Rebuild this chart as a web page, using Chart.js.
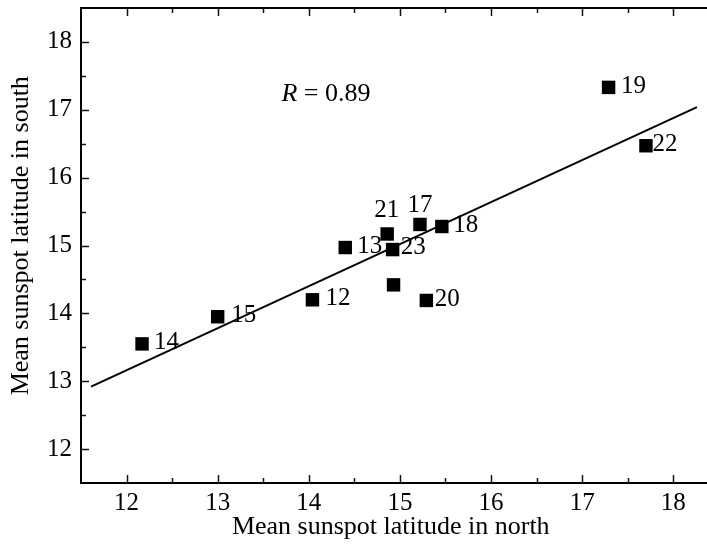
<!DOCTYPE html>
<html><head><meta charset="utf-8">
<script src="https://cdn.jsdelivr.net/npm/chart.js@4/dist/chart.umd.min.js"></script>
<style>html,body{margin:0;padding:0;background:#fff}#wrap{width:707px;height:544px}</style>
</head><body><div id="wrap"><canvas id="c" width="707" height="544"></canvas></div>
<script>
// ---- data ----
const cycles      = ['12','13','14','15','16','17','18','19','20','21','22','23'];
const northLat    = [14.04, 14.40, 12.17, 13.00, 14.93, 15.22, 15.46, 17.29, 15.29, 14.86, 17.70, 14.92];
const southLat    = [14.20, 14.97, 13.55, 13.95, 14.42, 15.31, 15.28, 17.33, 14.19, 15.17, 16.47, 14.94];
const shownLabels = ['12','13','14','15','','17','18','19','20','21','22','23'];
const fitX = [11.61, 18.26];
const fitY = [12.92, 17.04];
const xTicks = [12, 13, 14, 15, 16, 17, 18];
const yTicks = [12, 13, 14, 15, 16, 17, 18];
const xTitle = 'Mean sunspot latitude in north ';
const yTitle = '   Mean sunspot latitude in south';
const rSymbol = 'R';
const rValue = ' = 0.89';
const rAnchor = {x: 13.70, y: 17.23};

// ---- style (label placement per point: dx, dy in px, align) ----
const labelPlace = [
  [13, -1, 'left'], [12, -1, 'left'], [12, -1, 'left'], [13.5, -1, 'left'], [0, 0, 'left'],
  [0, -19, 'center'], [11.5, -1, 'left'], [12.5, -1, 'left'], [8.5, -1, 'left'],
  [-0.5, -24, 'center'], [6.5, -1, 'left'], [8, -2, 'left']
];
const FONT = 'Liberation Serif';
const X_MIN = 11.5, X_MAX = 18.37, Y_MIN = 11.5, Y_MAX = 18.5;

const points = northLat.map((v, i) => ({x: v, y: southLat[i]}));
const fitLine = fitX.map((v, i) => ({x: v, y: fitY[i]}));

const inwardTicks = {
  id: 'inwardTicks',
  afterDraw(chart) {
    const ctx = chart.ctx, a = chart.chartArea;
    const xs = chart.scales.x, ys = chart.scales.y;
    ctx.save();
    ctx.strokeStyle = '#111';
    ctx.lineWidth = 1.5;
    const steps = [];
    for (let v = 11.5; v <= 18.51; v += 0.5) steps.push(v);
    const drawX = (v, len) => {
      const px = Math.round(xs.getPixelForValue(v)) + 0.5;
      if (px < a.left + 2 || px > a.right - 1) return;
      ctx.beginPath(); ctx.moveTo(px, a.bottom); ctx.lineTo(px, a.bottom - len); ctx.stroke();
      ctx.beginPath(); ctx.moveTo(px, a.top); ctx.lineTo(px, a.top + len); ctx.stroke();
    };
    const drawY = (v, len) => {
      const py = Math.round(ys.getPixelForValue(v)) + 0.5;
      if (py < a.top + 2 || py > a.bottom - 2) return;
      ctx.beginPath(); ctx.moveTo(a.left, py); ctx.lineTo(a.left + len, py); ctx.stroke();
    };
    steps.forEach(v => drawX(v, Number.isInteger(v) ? 8 : 5));
    steps.forEach(v => drawY(v, Number.isInteger(v) ? 8 : 5));
    ctx.restore();
  }
};

const pointLabels = {
  id: 'pointLabels',
  afterDatasetsDraw(chart) {
    const ctx = chart.ctx;
    const meta = chart.getDatasetMeta(0);
    ctx.save();
    ctx.fillStyle = '#000';
    ctx.font = '25px "' + FONT + '"';
    ctx.textBaseline = 'middle';
    meta.data.forEach((el, i) => {
      const t = shownLabels[i];
      if (!t) return;
      const [dx, dy, al] = labelPlace[i];
      ctx.textAlign = al;
      ctx.fillText(t, el.x + dx, el.y + dy);
    });
    const px = chart.scales.x.getPixelForValue(rAnchor.x);
    const py = chart.scales.y.getPixelForValue(rAnchor.y);
    ctx.textAlign = 'left';
    ctx.font = 'italic 26px "' + FONT + '"';
    ctx.fillText(rSymbol, px, py);
    const w = ctx.measureText(rSymbol).width;
    ctx.font = '26px "' + FONT + '"';
    ctx.fillText(rValue, px + w, py);
    ctx.restore();
  }
};

new Chart(document.getElementById('c'), {
  type: 'scatter',
  data: {
    datasets: [
      {
        label: 'cycles',
        data: points,
        pointStyle: 'rect',
        pointRadius: 9.5,
        pointHoverRadius: 9.5,
        backgroundColor: '#000',
        borderWidth: 0,
        order: 0
      },
      {
        type: 'line',
        label: 'fit',
        data: fitLine,
        showLine: true,
        borderColor: '#000',
        borderWidth: 2,
        pointRadius: 0,
        fill: false,
        order: 1
      }
    ]
  },
  options: {
    responsive: false,
    animation: false,
    devicePixelRatio: 1,
    layout: {autoPadding: false, padding: {left: 0, right: 0, top: 8, bottom: 0}},
    plugins: {legend: {display: false}, tooltip: {enabled: false}},
    scales: {
      x: {
        type: 'linear', position: 'bottom', min: X_MIN, max: X_MAX,
        afterBuildTicks: s => { s.ticks = xTicks.map(v => ({value: v})); },
        afterFit: s => { s.height = 61; s.paddingLeft = 0; s.paddingRight = 0; },
        grid: {display: false, drawTicks: false},
        border: {display: true, color: '#000', width: 2},
        ticks: {color: '#000', padding: 5, maxRotation: 0, font: {family: FONT, size: 25}},
        title: {display: true, text: xTitle, color: '#000', padding: {top: 0, bottom: 1}, font: {family: FONT, size: 26}}
      },
      x2: {
        type: 'linear', position: 'top', min: X_MIN, max: X_MAX,
        afterFit: s => { s.height = 0; s.paddingLeft = 0; s.paddingRight = 0; },
        grid: {display: false, drawTicks: false},
        border: {display: true, color: '#000', width: 2},
        ticks: {display: false}
      },
      y: {
        type: 'linear', position: 'left', min: Y_MIN, max: Y_MAX,
        afterBuildTicks: s => { s.ticks = yTicks.map(v => ({value: v})); },
        afterFit: s => { s.width = 81; s.paddingTop = 0; s.paddingBottom = 0; },
        grid: {display: false, drawTicks: false},
        border: {display: true, color: '#000', width: 2},
        ticks: {color: '#000', padding: 9, font: {family: FONT, size: 25}},
        title: {display: true, text: yTitle, color: '#000', padding: {top: 6, bottom: 0}, font: {family: FONT, size: 26}}
      }
    }
  },
  plugins: [inwardTicks, pointLabels]
});
</script>
</body></html>
